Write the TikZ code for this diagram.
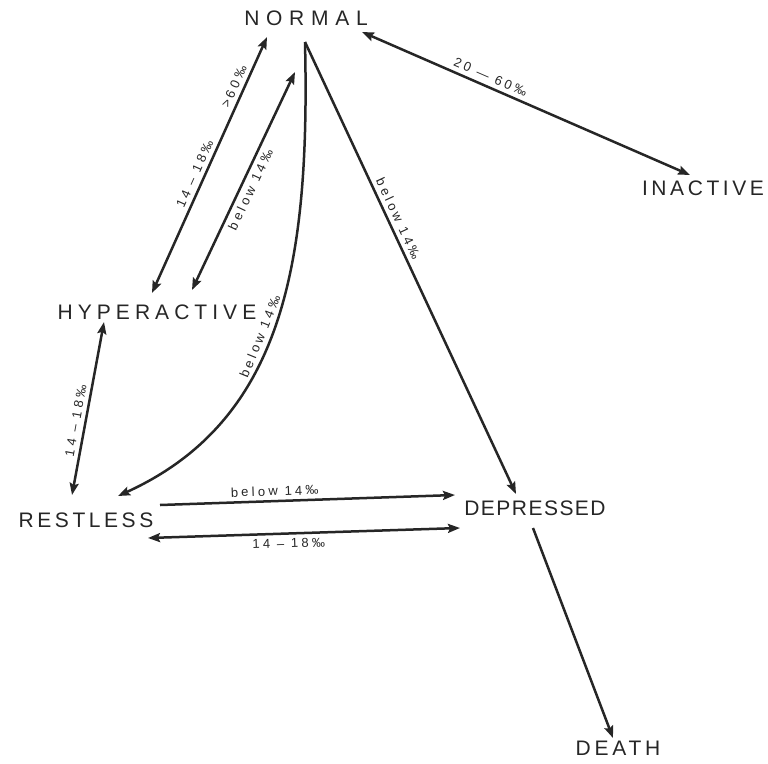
\documentclass[tikz,border=0pt]{standalone}
\usepackage{fontspec}
\setmainfont{Liberation Sans}
\usetikzlibrary{arrows.meta,calc}
\definecolor{ink}{gray}{0.15}
\begin{document}
\begin{tikzpicture}[x=1pt,y=-1pt,
  state/.style={inner sep=0pt, text=ink, font=\fontsize{21}{21}\selectfont},
  lbl/.style={text=ink, font=\fontsize{13}{13}\selectfont\addfontfeatures{LetterSpace=25}, inner sep=4pt, sloped},
  tip/.tip={Stealth[length=12pt,width=9pt,inset=2pt]},
  conn/.style={draw=ink, line width=2.5pt, -tip},
  biconn/.style={draw=ink, line width=2.5pt, tip-tip}]
\useasboundingbox (0,0) rectangle (768,763);

\node[state] (normal)    at (306,18)  {\addfontfeatures{LetterSpace=32}NORMAL};
\node[state] (inactive)  at (703,188) {\addfontfeatures{LetterSpace=17}INACTIVE};
\node[state] (hyper)     at (157,312) {\addfontfeatures{LetterSpace=24}HYPERACTIVE};
\node[state] (restless)  at (86,520)  {\addfontfeatures{LetterSpace=17}RESTLESS};
\node[state] (depressed) at (535,508) {\addfontfeatures{LetterSpace=7}DEPRESSED};
\node[state] (death)     at (618,748) {\addfontfeatures{LetterSpace=18}DEATH};

% NORMAL <-> HYPERACTIVE (outer)
\draw[biconn] ($(normal)+(-39,19)$) -- ($(hyper)+(-5,-19)$)
  node[lbl, pos=0.21, above] {>60‰}
  node[lbl, pos=0.55, above] {14 – 18‰};
% NORMAL <-> HYPERACTIVE (inner)
\draw[biconn] ($(normal)+(-11,54)$) -- ($(hyper)+(35,-22)$)
  node[lbl, pos=0.52, below] {below 14‰};
% NORMAL -> RESTLESS (curve)
\draw[conn] ($(normal)+(-1,24)$) .. controls (310,260) and (285,420) .. ($(restless)+(32,-24)$)
  node[lbl, pos=0.54, above] {below 14‰};
% NORMAL -> DEPRESSED
\draw[conn] ($(normal)+(-1,24)$) -- ($(depressed)+(-19,-14)$)
  node[lbl, pos=0.4, above] {below 14‰};
% NORMAL <-> INACTIVE
\draw[biconn] ($(normal)+(56,14)$) -- ($(inactive)+(-13,-13)$)
  node[lbl, pos=0.38, above] {20 — 60‰};
% HYPERACTIVE <-> RESTLESS
\draw[biconn] ($(hyper)+(-53,10)$) -- ($(restless)+(-14,-25)$)
  node[lbl, pos=0.58, above] {14 – 18‰};
% RESTLESS -> DEPRESSED
\draw[conn] ($(restless)+(74,-15)$) -- ($(depressed)+(-80,-13)$)
  node[lbl, pos=0.39, above] {below 14‰};
% DEPRESSED <-> RESTLESS
\draw[biconn] ($(depressed)+(-75,20)$) -- ($(restless)+(62,18)$)
  node[lbl, pos=0.55, below] {14 – 18‰};
% DEPRESSED -> DEATH
\draw[conn] ($(depressed)+(-2,20)$) -- ($(death)+(-5,-10)$);
\end{tikzpicture}
\end{document}
